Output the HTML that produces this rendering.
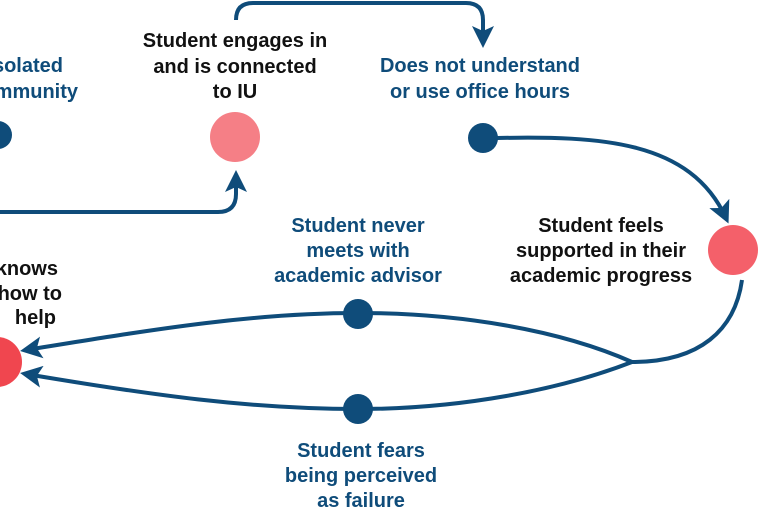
<!DOCTYPE html>
<html><head><meta charset="utf-8"><style>
html,body{margin:0;padding:0;background:#fff;width:768px;height:512px;overflow:hidden}
svg text{font-family:"Liberation Sans",sans-serif;font-weight:bold;font-size:20px;text-anchor:middle}
.b{fill:#0f4c7a}.k{fill:#111}
</style></head><body>
<svg width="768" height="512" viewBox="0 0 768 512">
<defs>
<marker id="h" markerWidth="22" markerHeight="22" refX="16" refY="11" orient="auto" markerUnits="userSpaceOnUse"><path d="M0,0 L22,11 L0,22 L5,11 Z" fill="#0f4c7a"/></marker></defs>
<g fill="none" stroke="#0f4c7a" stroke-width="4">
<path d="M-5,212 H218 Q236,212 236,194 V176" marker-end="url(#h)"/>
<path d="M236,20 Q236,3 253,3 H466 Q483,3 483,20 V42" marker-end="url(#h)"/>
<path d="M497,138 C600,136 690,140 726,218" marker-end="url(#h)"/>
<path d="M742,280 C735,330 700,362 632,362"/>
<path d="M632,362 C560,330 460,313 358,313 C250,313 150,330 26,350" marker-end="url(#h)"/>
<path d="M632,362 C560,390 460,409 358,409 C250,409 150,395 26,374" marker-end="url(#h)"/>
</g>
<circle cx="-2" cy="135" r="14" fill="#0f4c7a"/>
<circle cx="235" cy="137" r="25" fill="#f57f86"/>
<circle cx="483" cy="138" r="15" fill="#0f4c7a"/>
<circle cx="733" cy="250" r="25" fill="#f4606a"/>
<circle cx="358" cy="314" r="15" fill="#0f4c7a"/>
<circle cx="358" cy="409" r="15" fill="#0f4c7a"/>
<circle cx="-3" cy="362" r="25" fill="#f0464f"/>
<text class="b" x="63" y="72" style="text-anchor:end">solated</text>
<text class="b" x="78" y="98" style="text-anchor:end">mmunity</text>
<text class="k" x="235" y="47">Student engages in</text>
<text class="k" x="235" y="73">and is connected</text>
<text class="k" x="235" y="98">to IU</text>
<text class="b" x="480" y="72">Does not understand</text>
<text class="b" x="480" y="98">or use office hours</text>
<text class="k" x="601" y="232">Student feels</text>
<text class="k" x="601" y="257">supported in their</text>
<text class="k" x="601" y="282">academic progress</text>
<text class="b" x="358" y="232">Student never</text>
<text class="b" x="358" y="257">meets with</text>
<text class="b" x="358" y="282">academic advisor</text>
<text class="k" x="58" y="275" style="text-anchor:end">knows</text>
<text class="k" x="62" y="300" style="text-anchor:end">how to</text>
<text class="k" x="56" y="324" style="text-anchor:end">help</text>
<text class="b" x="361" y="457">Student fears</text>
<text class="b" x="361" y="482">being perceived</text>
<text class="b" x="361" y="507">as failure</text>
</svg>
</body></html>
